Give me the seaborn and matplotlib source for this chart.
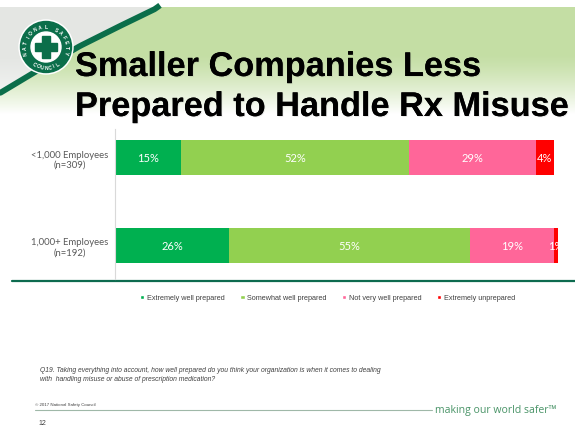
import numpy as np
import pandas as pd
import seaborn as sns
import matplotlib.pyplot as plt
import matplotlib.patheffects as pe
from matplotlib.patches import Circle, Rectangle, Patch

# Datos (porcentajes por tamaño de empresa)
grupos = ['<1,000 Employees\n(n=309)', '1,000+ Employees\n(n=192)']
respuestas = ['Extremely well prepared', 'Somewhat well prepared',
              'Not very well prepared', 'Extremely unprepared']
extremely_well = [15, 26]
somewhat_well = [52, 55]
not_very_well = [29, 19]
extremely_unprepared = [4, 1]
colores = ['#00B050', '#92D050', '#FF6699', '#FF0000']

df = pd.DataFrame({
    'Grupo': grupos,
    respuestas[0]: extremely_well,
    respuestas[1]: somewhat_well,
    respuestas[2]: not_very_well,
    respuestas[3]: extremely_unprepared,
})
acum = df[respuestas].cumsum(axis=1)
acum['Grupo'] = df['Grupo']

sns.set_style('white')
plt.rcParams['font.family'] = ['Liberation Sans', 'DejaVu Sans']

fig = plt.figure(figsize=(5.75, 4.27), dpi=100)

# Fondo / decoracion en coordenadas de pixel
bg = fig.add_axes([0, 0, 1, 1], zorder=0)
bg.set_xlim(0, 575)
bg.set_ylim(427, 0)
bg.axis('off')

# Degradado del encabezado
yy, xx = np.mgrid[8:118, 0:575] + 0.5
curva = np.interp(xx, [0, 40, 80, 120, 155, 575], [92, 68, 45, 25, 8, -300])
gris = np.array([228, 230, 227])
verde = np.array([196, 222, 164])
base = np.where((yy < curva)[..., None], gris, verde)
fade = np.clip((yy - 55) / 60, 0, 1)[..., None] ** 1.3
img = base * (1 - fade) + 255 * fade
bg.imshow(img.astype(np.uint8), extent=(0, 575, 118, 8), aspect='auto', zorder=0)
bg.set_xlim(0, 575)
bg.set_ylim(427, 0)

# Franja verde diagonal
sx = np.linspace(-5, 160, 60)
sy = np.interp(sx, [0, 40, 80, 120, 155, 575], [92, 68, 45, 25, 8, -300])
bg.plot(sx, sy + 2, color='#0b6e4a', lw=4.2, solid_capstyle='butt', zorder=1)

# Logo
cx, cy = 46, 48
bg.add_patch(Circle((cx, cy), 27, color='white', zorder=2))
bg.add_patch(Circle((cx, cy), 25.5, color='#0b6e4a', zorder=3))
bg.add_patch(Circle((cx, cy), 15, color='white', zorder=4))
bg.add_patch(Rectangle((cx - 11, cy - 4), 22, 8, color='#0b6e4a', zorder=5))
bg.add_patch(Rectangle((cx - 4, cy - 11), 8, 22, color='#0b6e4a', zorder=5))
for txt, a0, a1, abajo in [('NATIONAL SAFETY', 195, -15, False), ('COUNCIL', 235, 305, True)]:
    angs = np.linspace(a0, a1, len(txt))
    for ch, a in zip(txt, angs):
        r = 20.5
        px = cx + r * np.cos(np.radians(a))
        py = cy - r * np.sin(np.radians(a))
        rot = a - 270 if abajo else a - 90
        bg.text(px, py, ch, fontsize=3.6, fontweight='bold', color='white',
                rotation=rot, ha='center', va='center', zorder=6)

# Titulo
sombra = [pe.withSimplePatchShadow(offset=(0.7, -0.7), shadow_rgbFace='gray', alpha=0.15), pe.Normal()]
bg.text(75, 77, 'Smaller Companies Less', fontsize=24.7, fontweight='bold',
        color='black', va='baseline', zorder=6, path_effects=sombra)
bg.text(75, 117, 'Prepared to Handle Rx Misuse', fontsize=24.7, fontweight='bold',
        color='black', va='baseline', zorder=6, path_effects=sombra)

# Linea verde bajo el grafico
bg.plot([12, 575], [282, 282], color='#0d6b4f', lw=1.6, zorder=1)

# Pie de pagina
bg.text(40, 371, 'Q19. Taking everything into account, how well prepared do you think your '
        'organization is when it comes to dealing', fontsize=4.9, style='italic',
        color='#404040', va='center')
bg.text(40, 380, 'with  handling misuse or abuse of prescription medication?',
        fontsize=4.9, style='italic', color='#404040', va='center')
bg.text(35, 405, '\u00a9 2017 National Safety Council', fontsize=3.2, color='#404040', va='center')
bg.plot([35, 432], [411, 411], color='#9fb8a8', lw=0.8)
bg.text(435, 411, 'making our world safer\u2122', fontsize=7.6, family=['Open Sans', 'DejaVu Sans'],
        color='#4a9468', va='center')
bg.text(38, 424, '12', fontsize=5, color='#404040', va='center')

# Grafico de barras apiladas
ax = fig.add_axes([115 / 575, 1 - 280 / 427, 443 / 575, 150 / 427], zorder=1)
ax.patch.set_alpha(0)
for resp, color in reversed(list(zip(respuestas, colores))):
    sns.barplot(data=acum, x=resp, y='Grupo', color=color, orient='h', width=0.4,
                saturation=1, linewidth=0, ax=ax)

for i in range(len(grupos)):
    for resp in respuestas:
        v = df.loc[i, resp]
        centro = acum.loc[i, resp] - v / 2
        ax.text(centro, i, f'{v}%', ha='center', va='center', color='white',
                fontsize=8, family=['Lato', 'DejaVu Sans'])

ax.set_xlim(0, 101)
ax.set_ylim(1.381, -0.324)
ax.set_xlabel('')
ax.set_ylabel('')
ax.set_xticks([])
for s in ['top', 'right', 'bottom']:
    ax.spines[s].set_visible(False)
ax.spines['left'].set_color('#d9d9d9')
ax.spines['left'].set_linewidth(0.8)
ax.tick_params(axis='y', length=0, pad=32.4)
for lbl in ax.get_yticklabels():
    lbl.set_horizontalalignment('center')
    lbl.set_fontsize(6.8)
    lbl.set_color('#595959')
    lbl.set_family(['Lato', 'DejaVu Sans'])

# Leyenda
handles = [Patch(facecolor=c, label=r) for r, c in zip(respuestas, colores)]
leg = fig.legend(handles=handles, loc='center', bbox_to_anchor=(327.5 / 575, 1 - 299 / 427),
                 ncol=4, frameon=False, fontsize=5.2, handlelength=0.6, handleheight=0.6,
                 handletextpad=0.3, columnspacing=2.2)
for t in leg.get_texts():
    t.set_color('#404040')

fig.savefig('out.png', dpi=100)
